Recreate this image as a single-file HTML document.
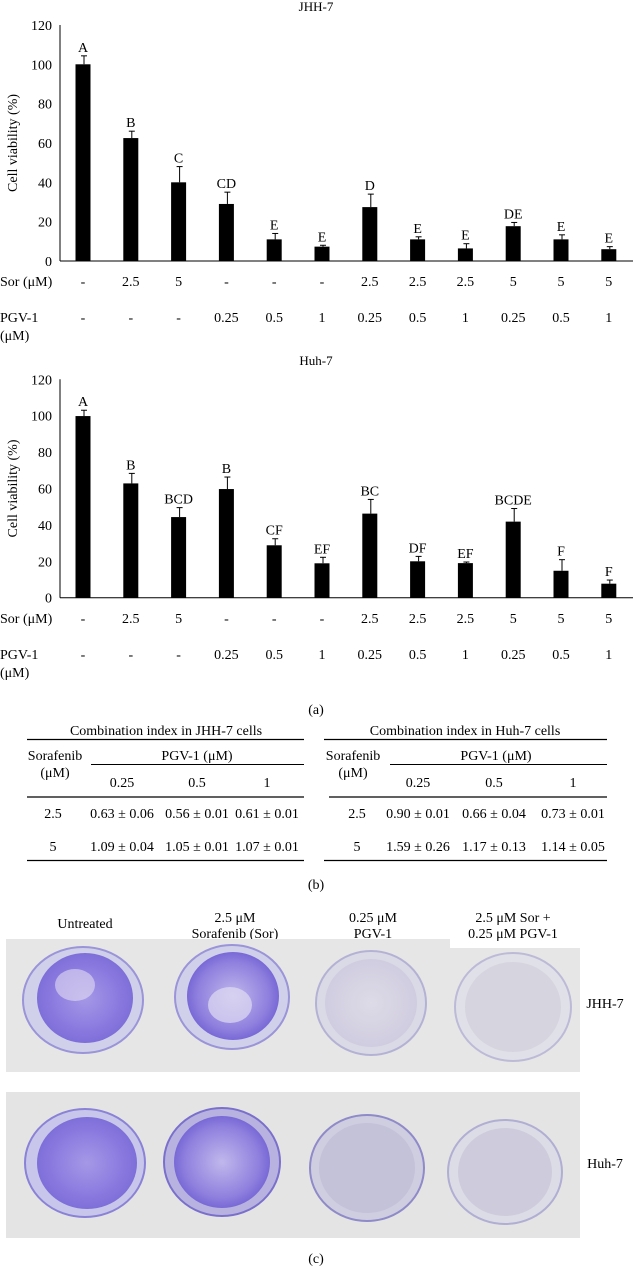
<!DOCTYPE html>
<html><head><meta charset="utf-8"><style>
html,body{margin:0;padding:0;background:#fff;}
svg{display:block;font-family:"Liberation Serif",serif;}
</style></head><body>
<svg id="fig" width="633" height="1267" viewBox="0 0 633 1267" xmlns="http://www.w3.org/2000/svg">
<defs>
<radialGradient id="purp" cx="50%" cy="50%" r="55%"><stop offset="0" stop-color="#a598e6"/><stop offset="0.6" stop-color="#8c7ce0"/><stop offset="1" stop-color="#7a6ad6"/></radialGradient>
<radialGradient id="purp2" cx="50%" cy="50%" r="55%"><stop offset="0" stop-color="#c0b8ec"/><stop offset="0.7" stop-color="#8f80de"/><stop offset="1" stop-color="#6e5ed2"/></radialGradient>
<radialGradient id="pale" cx="50%" cy="50%" r="55%"><stop offset="0" stop-color="#dddbe6"/><stop offset="1" stop-color="#cfcbe0"/></radialGradient>
</defs>
<g id="charts"></g>
<text x="316" y="714" text-anchor="middle" font-size="14">(a)</text>

<g font-size="14">
<g>
<text x="166" y="735" text-anchor="middle">Combination index in JHH-7 cells</text>
<line x1="27" x2="304" y1="739.5" y2="739.5" stroke="#000" stroke-width="1.2"/>
<text x="55" y="760" text-anchor="middle">Sorafenib</text>
<text x="55" y="777" text-anchor="middle">(μM)</text>
<text x="197" y="760" text-anchor="middle">PGV-1 (μM)</text>
<line x1="91" x2="304" y1="764.5" y2="764.5" stroke="#000" stroke-width="1"/>
<text x="122" y="787" text-anchor="middle">0.25</text><text x="197" y="787" text-anchor="middle">0.5</text><text x="267" y="787" text-anchor="middle">1</text>
<line x1="27" x2="304" y1="797" y2="797" stroke="#000" stroke-width="1.2"/>
<text x="53" y="818" text-anchor="middle">2.5</text>
<text x="122" y="818" text-anchor="middle">0.63 ± 0.06</text><text x="197" y="818" text-anchor="middle">0.56 ± 0.01</text><text x="267" y="818" text-anchor="middle">0.61 ± 0.01</text>
<text x="53" y="851" text-anchor="middle">5</text>
<text x="122" y="851" text-anchor="middle">1.09 ± 0.04</text><text x="197" y="851" text-anchor="middle">1.05 ± 0.01</text><text x="267" y="851" text-anchor="middle">1.07 ± 0.01</text>
<line x1="27" x2="304" y1="860.5" y2="860.5" stroke="#000" stroke-width="1.2"/>
</g>
<g>
<text x="465" y="735" text-anchor="middle">Combination index in Huh-7 cells</text>
<line x1="324" x2="607" y1="739.5" y2="739.5" stroke="#000" stroke-width="1.2"/>
<text x="353" y="760" text-anchor="middle">Sorafenib</text>
<text x="353" y="777" text-anchor="middle">(μM)</text>
<text x="496" y="760" text-anchor="middle">PGV-1 (μM)</text>
<line x1="390" x2="607" y1="764.5" y2="764.5" stroke="#000" stroke-width="1"/>
<text x="418" y="787" text-anchor="middle">0.25</text><text x="494" y="787" text-anchor="middle">0.5</text><text x="573" y="787" text-anchor="middle">1</text>
<line x1="329" x2="607" y1="797" y2="797" stroke="#000" stroke-width="1.2"/>
<text x="357" y="818" text-anchor="middle">2.5</text>
<text x="418" y="818" text-anchor="middle">0.90 ± 0.01</text><text x="494" y="818" text-anchor="middle">0.66 ± 0.04</text><text x="573" y="818" text-anchor="middle">0.73 ± 0.01</text>
<text x="357" y="851" text-anchor="middle">5</text>
<text x="418" y="851" text-anchor="middle">1.59 ± 0.26</text><text x="494" y="851" text-anchor="middle">1.17 ± 0.13</text><text x="573" y="851" text-anchor="middle">1.14 ± 0.05</text>
<line x1="324" x2="607" y1="860.5" y2="860.5" stroke="#000" stroke-width="1.2"/>
</g>
</g>
<text x="316" y="889" text-anchor="middle" font-size="14">(b)</text>

<g font-size="14">
<text x="85" y="928" text-anchor="middle">Untreated</text>
<text x="235" y="922" text-anchor="middle">2.5 μM</text><text x="235" y="938" text-anchor="middle">Sorafenib (Sor)</text>
<text x="373" y="922" text-anchor="middle">0.25 μM</text><text x="373" y="938" text-anchor="middle">PGV-1</text>
<text x="513" y="922" text-anchor="middle">2.5 μM Sor +</text><text x="513" y="938" text-anchor="middle">0.25 μM PGV-1</text>
<g>
<path d="M6 939 H450 V948 H580 V1072 H6 Z" fill="#e6e6e6"/>
<ellipse cx="83" cy="1000" rx="60" ry="53" fill="#d0d0ea" stroke="#9a94d8" stroke-width="2"/>
<ellipse cx="85" cy="998" rx="48" ry="45" fill="url(#purp)"/>
<ellipse cx="75" cy="985" rx="20" ry="16" fill="#e2dcf2" opacity="0.6"/>
<ellipse cx="232" cy="997" rx="57" ry="52" fill="#d0d0ea" stroke="#9a94d8" stroke-width="2"/>
<ellipse cx="233" cy="996" rx="46" ry="44" fill="url(#purp2)"/>
<ellipse cx="230" cy="1005" rx="22" ry="18" fill="#e0dcf2" opacity="0.7"/>
<ellipse cx="371" cy="1003" rx="55" ry="52" fill="#dadae6" stroke="#b4b2d4" stroke-width="2"/>
<ellipse cx="371" cy="1003" rx="46" ry="44" fill="url(#pale)"/>
<ellipse cx="513" cy="1007" rx="58" ry="54" fill="#e0e0e8" stroke="#bcbad6" stroke-width="2"/>
<ellipse cx="513" cy="1007" rx="48" ry="45" fill="#d6d4de"/>
<text x="605" y="1008" text-anchor="middle">JHH-7</text>
</g>
<g>
<rect x="6" y="1092" width="574" height="146" fill="#e4e4e4"/>
<ellipse cx="85" cy="1163" rx="60" ry="54" fill="#c8c6ea" stroke="#8a82d6" stroke-width="2"/>
<ellipse cx="87" cy="1163" rx="50" ry="46" fill="url(#purp)"/>
<ellipse cx="222" cy="1162" rx="58" ry="54" fill="#b8b2e0" stroke="#7a70cc" stroke-width="2"/>
<ellipse cx="222" cy="1162" rx="48" ry="46" fill="url(#purp2)"/>
<ellipse cx="367" cy="1168" rx="57" ry="53" fill="#cfcde0" stroke="#8f8ac8" stroke-width="2"/>
<ellipse cx="367" cy="1168" rx="48" ry="45" fill="#c4c2d8"/>
<ellipse cx="505" cy="1172" rx="57" ry="52" fill="#dcdce6" stroke="#b0aed2" stroke-width="2"/>
<ellipse cx="505" cy="1172" rx="47" ry="44" fill="#ceccdc"/>
<text x="605" y="1168" text-anchor="middle">Huh-7</text>
</g>
</g>
<text x="316" y="1263" text-anchor="middle" font-size="14">(c)</text>
</svg>
<script>
const treatments = ["1","2","3","4","5","6","7","8","9","10","11","12"];
const sorLabels = ["-","2.5","5","-","-","-","2.5","2.5","2.5","5","5","5"];
const pgvLabels = ["-","-","-","0.25","0.5","1","0.25","0.5","1","0.25","0.5","1"];
const yTicks = [0,20,40,60,80,100,120];
const jhhMeans = [100,62.5,40,29,11,7.3,27.4,11,6.4,17.7,11,6];
const jhhErrTops = [104.3,66,48,35,14,8,34,12.3,8.8,19.6,13.3,7.3];
const jhhLetters = ["A","B","C","CD","E","E","D","E","E","DE","E","E"];
const huhMeans = [99.8,62.8,44.3,59.7,28.8,18.9,46.2,20,19,41.8,14.8,7.7];
const huhErrTops = [103,68.3,49.5,66.3,32.4,22.2,54,22.7,19.6,49,20.9,9.7];
const huhLetters = ["A","B","BCD","B","CF","EF","BC","DF","EF","BCDE","F","F"];

const NS="http://www.w3.org/2000/svg";
const root=document.getElementById('charts');
function mk(tag,attrs,parent){const e=document.createElementNS(NS,tag);for(const k in attrs)e.setAttribute(k,attrs[k]);parent.appendChild(e);return e;}
function drawChart(cfg){
  const g=mk('g',{},root);
  
  
  const x0=60, zeroY=cfg.zeroY, ppu=cfg.ppu;
  const xScale=i=>83+i*47.8;
  const yScale=v=>zeroY-v*ppu;
  const t=mk('text',{x:316,y:cfg.titleY,'text-anchor':'middle','font-size':13},g);t.textContent=cfg.title;
  
  
  const ax=mk('line',{x1:x0,x2:x0,y1:yScale(120),y2:zeroY,stroke:'#000','stroke-width':1},g);
  
  
  const bx=mk('line',{x1:x0,x2:633,y1:zeroY,y2:zeroY,stroke:'#000','stroke-width':1},g);
  
  
  yTicks.forEach(v=>{const tt=mk('text',{x:52,y:yScale(v)+5,'text-anchor':'end','font-size':14},g);tt.textContent=v;
    
    });
  const yt=mk('text',{x:0,y:0,'text-anchor':'middle','font-size':14,transform:`translate(17,${yScale(60)}) rotate(-90)`},g);yt.textContent='Cell viability (%)';
  
  
  const s1=mk('text',{x:0,y:cfg.sorY+5,'font-size':14},g);s1.textContent='Sor (μM)';
  
  
  const p1=mk('text',{x:0,y:cfg.pgvY+5,'font-size':14},g);p1.textContent='PGV-1';
  
  
  const p2=mk('text',{x:0,y:cfg.pgvY+23,'font-size':14},g);p2.textContent='(μM)';
  
  
  treatments.forEach((c,i)=>{
    const cx=xScale(i);
    const top=yScale(cfg.means[i]);
    const et=yScale(cfg.errs[i]);
    const el=mk('line',{x1:cx+1,x2:cx+1,y1:et,y2:top,stroke:'#000','stroke-width':1},g);
    
    
    const ec=mk('line',{x1:cx-2,x2:cx+4,y1:et,y2:et,stroke:'#000','stroke-width':1},g);
    
    
    const r=mk('rect',{x:cx-7.5,y:top,width:15,height:zeroY-top,fill:'#000'},g);
    
    
    const lt=mk('text',{x:cx,y:et-4,'text-anchor':'middle','font-size':14},g);lt.textContent=cfg.letters[i];
    
    
    const st=mk('text',{x:cx,y:cfg.sorY+5,'text-anchor':'middle','font-size':14},g);st.textContent=sorLabels[i];
    
    
    const pt=mk('text',{x:cx,y:cfg.pgvY+5,'text-anchor':'middle','font-size':14},g);pt.textContent=pgvLabels[i];
    
    
  });
}
drawChart({name:'chart-jhh7',title:'JHH-7',titleY:11,zeroY:261,ppu:1.967,means:jhhMeans,errs:jhhErrTops,letters:jhhLetters,sorY:281,pgvY:317});
drawChart({name:'chart-huh7',title:'Huh-7',titleY:365,zeroY:597.7,ppu:1.82,means:huhMeans,errs:huhErrTops,letters:huhLetters,sorY:618,pgvY:654});
</script>
</body></html>
